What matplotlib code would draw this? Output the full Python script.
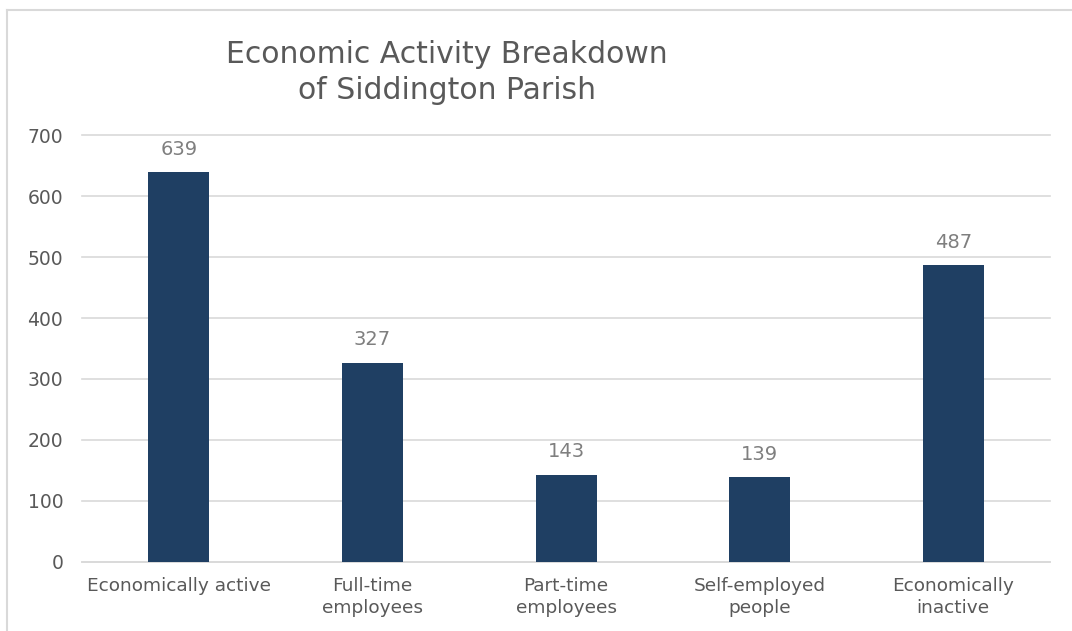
import matplotlib.pyplot as plt
from matplotlib.lines import Line2D

categories = ['Economically active', 'Full-time\nemployees', 'Part-time\nemployees',
              'Self-employed\npeople', 'Economically\ninactive']
values = [639, 327, 143, 139, 487]

plt.rcParams['font.family'] = ['DejaVu Sans']

fig = plt.figure(figsize=(10.72, 6.31), dpi=100)
ax = fig.add_axes([0.0765, 0.1094, 0.903, 0.6766])

x = range(len(categories))
bars = ax.bar(x, values, width=0.315, color='#1f3f63', zorder=3)
for b, v in zip(bars, values):
    ax.text(b.get_x() + b.get_width() / 2, v + 22, str(v), ha='center', va='bottom',
            fontsize=14, color='#7f7f7f')

ax.set_xlim(-0.5, len(categories) - 0.5)
ax.set_ylim(0, 700)
ax.set_yticks(range(0, 701, 100))
ax.set_xticks(list(x))
ax.set_xticklabels(categories, fontsize=13.3, color='#595959', linespacing=1.3)
ax.tick_params(axis='y', labelsize=13.5, labelcolor='#595959', length=0, pad=13.5)
ax.tick_params(axis='x', length=0, pad=11)
ax.grid(axis='y', color='#d9d9d9', linewidth=1.2, zorder=0)
for gl in ax.get_ygridlines():
    gl.set_clip_on(False)
for s in ['top', 'right', 'left']:
    ax.spines[s].set_visible(False)
ax.spines['bottom'].set_color('#d9d9d9')
ax.spines['bottom'].set_linewidth(1.2)

fig.text(0.417, 0.885, 'Economic Activity Breakdown\nof Siddington Parish', ha='center', va='center',
         fontsize=21.5, color='#595959', linespacing=1.28)

# outer chart border (top and left edges visible)
fig.add_artist(Line2D([7 / 1072, 1], [1 - 10 / 631, 1 - 10 / 631], transform=fig.transFigure,
                      color='#d9d9d9', linewidth=1.5))
fig.add_artist(Line2D([7 / 1072, 7 / 1072], [0, 1 - 10 / 631], transform=fig.transFigure,
                      color='#d9d9d9', linewidth=1.5))

fig.savefig('out.png', dpi=100)
